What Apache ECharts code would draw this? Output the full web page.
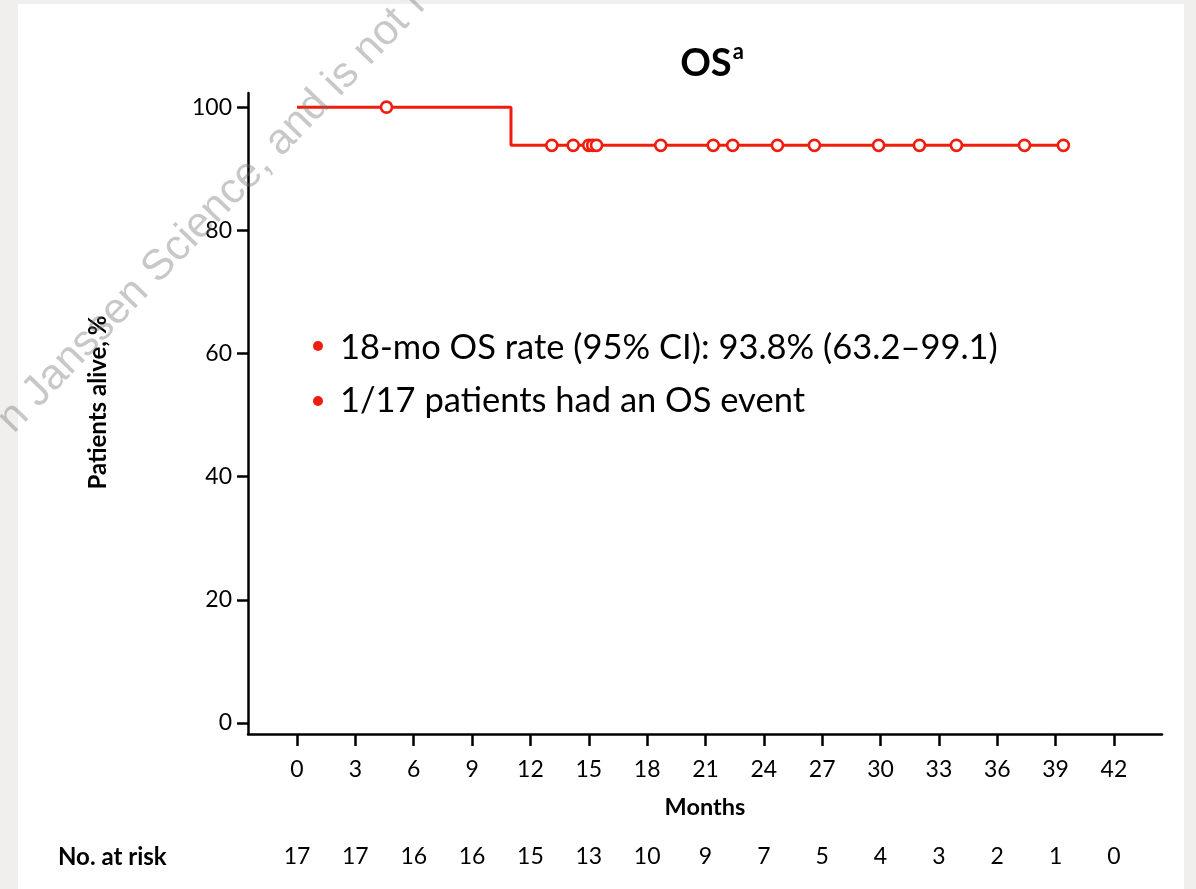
<!DOCTYPE html>
<html>
<head>
<meta charset="utf-8">
<script src="https://cdn.jsdelivr.net/npm/echarts@6/dist/echarts.min.js"></script>
<style>
html,body{margin:0;padding:0;background:#f0efed;}
#main{width:1196px;height:889px;}
</style>
</head>
<body>
<div id="main"></div>
<script>
// ---- data ----
var monthTicks = [0, 3, 6, 9, 12, 15, 18, 21, 24, 27, 30, 33, 36, 39, 42];
var atRisk = [17, 17, 16, 16, 15, 13, 10, 9, 7, 5, 4, 3, 2, 1, 0];
var yTicks = [0, 20, 40, 60, 80, 100];
// Kaplan-Meier step curve (month, % alive)
var kmMonths = [0, 11.0, 39.4];
var kmSurvival = [100, 93.8, 93.8];
// censored observations (month, % alive)
var censorMonths = [4.6, 13.1, 14.2, 15.0, 15.2, 15.4, 18.7, 21.4, 22.4, 24.7, 26.6, 29.9, 32.0, 33.9, 37.4, 39.4];
var censorSurvival = [100, 93.8, 93.8, 93.8, 93.8, 93.8, 93.8, 93.8, 93.8, 93.8, 93.8, 93.8, 93.8, 93.8, 93.8, 93.8];
var notes = ['18-mo OS rate (95% CI): 93.8% (63.2\u201399.1)', '1/17 patients had an OS event'];

var RED = '#ee1d0e';
var FONT = 'Lato';

var kmData = kmMonths.map(function (m, i) { return [m, kmSurvival[i]]; });
var censorData = censorMonths.map(function (m, i) { return [m, censorSurvival[i]]; });
var riskMap = {};
monthTicks.forEach(function (m, i) { riskMap[m] = atRisk[i]; });

var chart = echarts.init(document.getElementById('main'));
var option = {
  backgroundColor: '#f0efed',
  animation: false,
  title: {
    text: '{b|OS}{s|a}',
    left: 707,
    top: 36,
    textAlign: 'center',
    textStyle: {
      rich: {
        b: { fontFamily: FONT, fontWeight: 'bold', fontSize: 38, color: '#000', verticalAlign: 'bottom', lineHeight: 42 },
        s: { fontFamily: FONT, fontWeight: 'bold', fontSize: 22, color: '#000', verticalAlign: 'top', lineHeight: 42, padding: [0, 0, 14, 1] }
      }
    }
  },
  grid: { left: 248, right: 34, top: 93, bottom: 155, containLabel: false, outerBoundsMode: 'none' },
  xAxis: [{
    type: 'value',
    min: -2.52,
    max: 44.47,
    splitLine: { show: false },
    axisLine: { onZero: false, lineStyle: { color: '#000', width: 2.5 } },
    axisTick: { customValues: monthTicks, length: 12, lineStyle: { color: '#000', width: 2.5 } },
    axisLabel: { customValues: monthTicks, margin: 24, fontFamily: FONT, fontSize: 23, color: '#000' },
    name: 'Months',
    nameLocation: 'middle',
    nameGap: 61,
    nameTextStyle: { fontFamily: FONT, fontWeight: 'bold', fontSize: 23.5, color: '#000' }
  }, {
    type: 'value',
    position: 'bottom',
    min: -2.52,
    max: 44.47,
    splitLine: { show: false },
    axisLine: { show: false },
    axisTick: { show: false },
    axisLabel: {
      customValues: monthTicks, margin: 111, fontFamily: FONT, fontSize: 23, color: '#000',
      formatter: function (v) { return String(riskMap[v]); }
    }
  }],
  yAxis: {
    type: 'value',
    min: -1.8,
    max: 102.3,
    splitLine: { show: false },
    axisLine: { onZero: false, lineStyle: { color: '#000', width: 2.5 } },
    axisTick: { customValues: yTicks, length: 11, lineStyle: { color: '#000', width: 2.5 } },
    axisLabel: { customValues: yTicks, margin: 16, fontFamily: FONT, fontSize: 23, color: '#000' },
    name: 'Patients alive, %',
    nameLocation: 'middle',
    nameGap: 138,
    nameTextStyle: { fontFamily: FONT, fontWeight: 'bold', fontSize: 24, color: '#000', padding: [0, 0, 0, 22] }
  },
  series: [{
    type: 'line',
    step: 'end',
    data: kmData,
    symbol: 'none',
    lineStyle: { color: RED, width: 3 },
    z: 3
  }, {
    type: 'scatter',
    data: censorData,
    symbol: 'circle',
    symbolSize: 11,
    itemStyle: { color: '#ffffff', borderColor: RED, borderWidth: 2.6, opacity: 1 },
    z: 4
  }],
  graphic: [
    { type: 'rect', z: -10, silent: true, shape: { x: 18, y: 4, width: 1166, height: 890 }, style: { fill: '#ffffff' } },
    { type: 'circle', shape: { cx: 318, cy: 346, r: 5 }, style: { fill: RED } },
    { type: 'circle', shape: { cx: 318, cy: 401, r: 5 }, style: { fill: RED } },
    { type: 'text', x: 340, y: 348, style: { text: notes[0], font: '34.5px ' + FONT, fill: '#000', textVerticalAlign: 'middle' } },
    { type: 'text', x: 340, y: 401, style: { text: notes[1], font: '34.5px ' + FONT, fill: '#000', textVerticalAlign: 'middle' } },
    { type: 'text', x: 58, y: 857, style: { text: 'No. at risk', font: 'bold 24px ' + FONT, fill: '#000', textVerticalAlign: 'middle' } },
    { type: 'text', x: 212, y: 212, rotation: 46 * Math.PI / 180, z: 100, silent: true,
      style: { text: 'n Janssen Science, and is not f', font: '43px "Liberation Sans"', fill: 'rgba(110,110,110,0.38)', textAlign: 'center', textVerticalAlign: 'middle' } }
  ]
};
chart.setOption(option);
</script>
</body>
</html>
